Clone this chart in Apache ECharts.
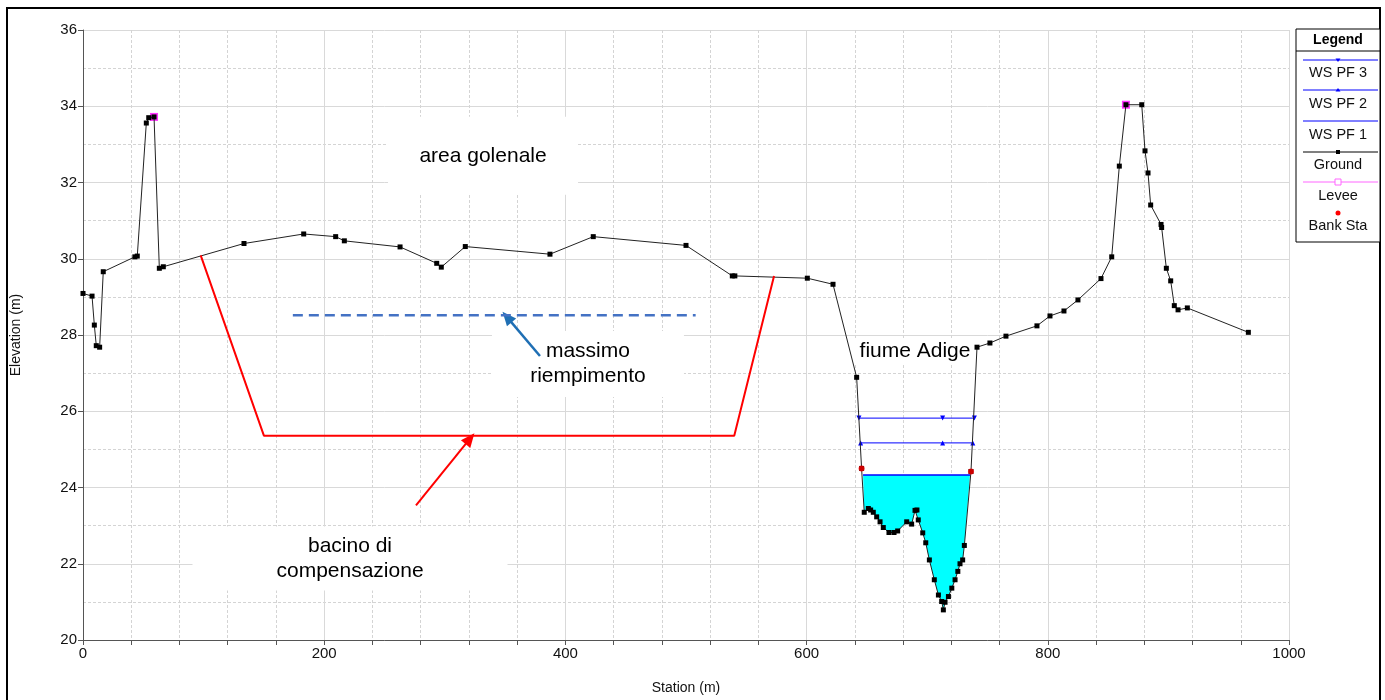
<!DOCTYPE html>
<html>
<head>
<meta charset="utf-8">
<script src="https://cdn.jsdelivr.net/npm/echarts@6/dist/echarts.min.js"></script>
<style>
  html, body { margin: 0; padding: 0; background: #fff; }
  #main { width: 1385px; height: 700px; }
</style>
</head>
<body>
<div id="main"></div>
<script>
// Cross section: station (m) vs elevation (m)
const ground = [
  [0, 29.09], [7.5, 29.02], [9.4, 28.26], [11, 27.72], [13.8, 27.68], [16.8, 29.66],
  [43, 30.05], [45, 30.07], [52.5, 33.56], [54.5, 33.70], [58.9, 33.72], [63.3, 29.75],
  [66.6, 29.79], [133.5, 30.40], [183, 30.65], [209.5, 30.58], [216.7, 30.47],
  [262.9, 30.31], [293.3, 29.88], [297.1, 29.78], [317, 30.32], [387.2, 30.12],
  [423.1, 30.58], [500, 30.35], [538.4, 29.55], [540.5, 29.55], [600.6, 29.49],
  [621.9, 29.33], [641.5, 26.89], [645.6, 24.50], [647.8, 23.35], [651.2, 23.45],
  [653.1, 23.41], [655.3, 23.35], [658.1, 23.23], [660.9, 23.10], [663.6, 22.95],
  [668.3, 22.82], [672.5, 22.82], [675.5, 22.86], [683, 23.10], [687.1, 23.04],
  [689.9, 23.40], [691.5, 23.41], [692.6, 23.15], [696.3, 22.81], [698.8, 22.55],
  [701.8, 22.10], [705.9, 21.58], [709.3, 21.18], [712, 21.01], [713.4, 20.79],
  [714.8, 20.99], [717.6, 21.14], [720.4, 21.36], [723.1, 21.58], [725.4, 21.80],
  [727.2, 22.00], [729.4, 22.10], [730.8, 22.48], [736.3, 24.42], [741.3, 27.68],
  [752, 27.79], [765.3, 27.97], [791, 28.24], [801.8, 28.50], [813.4, 28.63],
  [825, 28.92], [844.1, 29.48], [853, 30.05], [859.3, 32.43], [864.8, 34.04],
  [877.9, 34.04], [880.6, 32.83], [883.1, 32.25], [885.3, 31.41], [893.9, 30.90],
  [894.4, 30.82], [898.3, 29.75], [901.9, 29.42], [904.9, 28.77], [908, 28.66],
  [915.7, 28.71], [966.3, 28.07]
];

// Channel bed below the PF 1 water surface
const wetBed = [
  [646.8, 24.33], [647.8, 23.35], [651.2, 23.45], [653.1, 23.41], [655.3, 23.35],
  [658.1, 23.23], [660.9, 23.10], [663.6, 22.95], [668.3, 22.82], [672.5, 22.82],
  [675.5, 22.86], [683, 23.10], [687.1, 23.04], [689.9, 23.40], [691.5, 23.41],
  [692.6, 23.15], [696.3, 22.81], [698.8, 22.55], [701.8, 22.10], [705.9, 21.58],
  [709.3, 21.18], [712, 21.01], [713.4, 20.79], [714.8, 20.99], [717.6, 21.14],
  [720.4, 21.36], [723.1, 21.58], [725.4, 21.80], [727.2, 22.00], [729.4, 22.10],
  [730.8, 22.48], [735.5, 24.33]
];

const wsPF1 = [[646.8, 24.33], [735.5, 24.33]];
const wsPF2 = [[644.8, 25.17], [712.8, 25.17], [737.8, 25.17]];
const wsPF3 = [[643.4, 25.82], [712.8, 25.82], [739.1, 25.82]];
const levee = [[58.9, 33.72], [864.8, 34.04]];
const bankSta = [[645.6, 24.50], [736.3, 24.42]];

// Compensation basin outline and maximum fill level
const basin = [[97.6, 30.09], [150, 25.36], [540, 25.36], [573, 29.55]];
const maxFill = [[174, 28.52], [508, 28.52]];
const fillArrow = [[378.9, 27.45], [351.6, 28.47]];
const basinArrow = [[276.1, 23.53], [320.9, 25.28]];

const xTicks = [0, 200, 400, 600, 800, 1000];
const yTicks = [20, 22, 24, 26, 28, 30, 32, 34, 36];

const FONT = '"Liberation Sans", Arial, sans-serif';
const chart = echarts.init(document.getElementById('main'));

const option = {
  animation: false,
  backgroundColor: '#fff',
  grid: { left: 83, right: 96, top: 30, bottom: 58, containLabel: false },
  xAxis: {
    type: 'value', min: xTicks[0], max: xTicks[xTicks.length - 1], interval: 200,
    name: 'Station (m)', nameLocation: 'middle', nameGap: 41,
    nameTextStyle: { fontFamily: FONT, fontSize: 14, color: '#111' },
    axisLine: { show: true, lineStyle: { color: '#555', width: 1 } },
    axisTick: { show: true, length: 5, lineStyle: { color: '#555' } },
    minorTick: { show: true, splitNumber: 5, length: 5, lineStyle: { color: '#555' } },
    axisLabel: { fontFamily: FONT, fontSize: 15, color: '#111', margin: 6,
      formatter: v => String(v) },
    splitLine: { show: true, lineStyle: { color: '#d9d9d9', width: 1 } },
    minorSplitLine: { show: true, lineStyle: { color: '#d4d4d4', type: [3, 2], width: 1 } }
  },
  yAxis: {
    type: 'value', min: yTicks[0], max: yTicks[yTicks.length - 1], interval: 2,
    name: 'Elevation (m)', nameLocation: 'middle', nameGap: 60, nameRotate: 90,
    nameTextStyle: { fontFamily: FONT, fontSize: 14, color: '#111' },
    axisLine: { show: true, lineStyle: { color: '#555', width: 1 } },
    axisTick: { show: true, length: 5, lineStyle: { color: '#555' } },
    minorTick: { show: false, splitNumber: 2 },
    axisLabel: { fontFamily: FONT, fontSize: 15, color: '#111', margin: 6 },
    splitLine: { show: true, lineStyle: { color: '#d9d9d9', width: 1 } },
    minorSplitLine: { show: true, lineStyle: { color: '#d4d4d4', type: [3, 2], width: 1 } }
  },
  series: [
    {
      name: 'water', type: 'line', data: wetBed, symbol: 'none', silent: true,
      lineStyle: { width: 0 },
      areaStyle: { color: '#00FFFF', opacity: 1, origin: 24.33 }, z: 2
    },
    {
      name: 'WS PF 3', type: 'line', data: wsPF3, symbol: 'triangle', symbolRotate: 180,
      symbolSize: 5, color: '#0000FF', lineStyle: { color: '#0000FF', width: 1 }, z: 3
    },
    {
      name: 'WS PF 2', type: 'line', data: wsPF2, symbol: 'triangle',
      symbolSize: 5, color: '#0000FF', lineStyle: { color: '#0000FF', width: 1 }, z: 3
    },
    {
      name: 'WS PF 1', type: 'line', data: wsPF1, symbol: 'none',
      color: '#0000FF', lineStyle: { color: '#0000FF', width: 1.5 }, z: 3
    },
    {
      name: 'Levee', type: 'scatter', data: levee, symbol: 'rect', symbolSize: 8,
      itemStyle: { color: '#FF00FF' }, z: 4
    },
    {
      name: 'Ground', type: 'line', data: ground, symbol: 'rect', symbolSize: 5,
      showAllSymbol: true, color: '#000',
      itemStyle: { color: '#000' }, lineStyle: { color: '#222', width: 1 }, z: 5
    },
    {
      name: 'Bank Sta', type: 'scatter', data: bankSta, symbol: 'circle', symbolSize: 6,
      itemStyle: { color: '#FF0000' }, z: 6
    },
    {
      name: 'bacino', type: 'line', data: basin, symbol: 'none', silent: true,
      lineStyle: { color: '#FF0000', width: 2 }, z: 7
    },
    {
      name: 'riempimento', type: 'line', data: maxFill, symbol: 'none', silent: true,
      lineStyle: { color: '#4472C4', width: 2.5, type: [10, 6] }, z: 7
    },
    {
      name: 'arrows', type: 'line', data: [], silent: true, z: 8,
      markLine: {
        silent: true, symbol: ['none', 'triangle'], symbolSize: [12, 14],
        label: { show: false },
        data: [
          [{ coord: fillArrow[0], lineStyle: { color: '#1F6FB4', width: 2.5, type: 'solid' } },
           { coord: fillArrow[1] }],
          [{ coord: basinArrow[0], lineStyle: { color: '#FF0000', width: 2, type: 'solid' } },
           { coord: basinArrow[1] }]
        ]
      }
    }
  ]
};
chart.setOption(option);

// Annotations and legend, anchored to the plot
const px = (x, y) => chart.convertToPixel({ gridIndex: 0 }, [x, y]);
const graphics = [];

function note(text, x, y, boxW, boxH) {
  const c = px(x, y);
  graphics.push({
    type: 'rect', z: 1, silent: true,
    shape: { x: c[0] - boxW / 2, y: c[1] - boxH / 2, width: boxW, height: boxH },
    style: { fill: '#fff' }
  });
  graphics.push({
    type: 'text', z: 20, silent: true, x: c[0], y: c[1],
    style: { text: text, fontFamily: FONT, fontSize: 21, fill: '#000',
      align: 'center', verticalAlign: 'middle', lineHeight: 25 }
  });
}
note('area golenale', 331.7, 32.70, 190, 78);
note('massimo\nriempimento', 418.7, 27.24, 192, 66);
note('bacino di\ncompensazione', 221.4, 22.14, 315, 64);
note('fiume Adige', 689.9, 27.58, 120, 24);

// Outer frame
graphics.push({
  type: 'rect', z: 30, silent: true,
  shape: { x: 7, y: 8, width: 1373, height: 720 },
  style: { fill: null, stroke: '#000', lineWidth: 2 }
});

// Legend panel
const LX = 1296, LY = 29, LW = 84, LH = 213;
graphics.push({
  type: 'rect', z: 30, silent: true,
  shape: { x: LX, y: LY, width: LW, height: LH },
  style: { fill: '#fff', stroke: '#000', lineWidth: 1 }
});
graphics.push({
  type: 'line', z: 31, silent: true,
  shape: { x1: LX, y1: 51, x2: LX + LW, y2: 51 }, style: { stroke: '#000', lineWidth: 1 }
});
graphics.push({
  type: 'text', z: 31, silent: true, x: LX + LW / 2, y: 40,
  style: { text: 'Legend', fontFamily: FONT, fontSize: 14, fontWeight: 'bold', fill: '#000',
    align: 'center', verticalAlign: 'middle' }
});
const legendItems = [
  { name: 'WS PF 3', color: '#0000FF', mark: 'tri-down', ly: 60, ty: 73 },
  { name: 'WS PF 2', color: '#0000FF', mark: 'tri-up', ly: 90, ty: 104 },
  { name: 'WS PF 1', color: '#0000FF', mark: null, ly: 121, ty: 135 },
  { name: 'Ground', color: '#000', mark: 'square', ly: 152, ty: 165 },
  { name: 'Levee', color: '#FF66FF', mark: 'hollow', ly: 182, ty: 196 },
  { name: 'Bank Sta', color: '#FF0000', mark: 'dot', ly: 213, ty: 226 }
];
const mx = LX + LW / 2;
legendItems.forEach(it => {
  if (it.mark !== 'dot') {
    graphics.push({
      type: 'line', z: 31, silent: true,
      shape: { x1: 1303, y1: it.ly, x2: 1378, y2: it.ly }, style: { stroke: it.color, lineWidth: 1 }
    });
  }
  if (it.mark === 'tri-down') {
    graphics.push({ type: 'polygon', z: 32, silent: true,
      shape: { points: [[mx - 2.5, it.ly - 1.5], [mx + 2.5, it.ly - 1.5], [mx, it.ly + 2]] },
      style: { fill: it.color } });
  } else if (it.mark === 'tri-up') {
    graphics.push({ type: 'polygon', z: 32, silent: true,
      shape: { points: [[mx - 2.5, it.ly + 1.5], [mx + 2.5, it.ly + 1.5], [mx, it.ly - 2]] },
      style: { fill: it.color } });
  } else if (it.mark === 'square') {
    graphics.push({ type: 'rect', z: 32, silent: true,
      shape: { x: mx - 2, y: it.ly - 2, width: 4, height: 4 }, style: { fill: '#000' } });
  } else if (it.mark === 'hollow') {
    graphics.push({ type: 'rect', z: 32, silent: true,
      shape: { x: mx - 3, y: it.ly - 3, width: 6, height: 6 },
      style: { fill: '#fff', stroke: it.color, lineWidth: 1 } });
  } else if (it.mark === 'dot') {
    graphics.push({ type: 'circle', z: 32, silent: true,
      shape: { cx: mx, cy: it.ly, r: 2.5 }, style: { fill: it.color } });
  }
  graphics.push({
    type: 'text', z: 31, silent: true, x: mx, y: it.ty,
    style: { text: it.name, fontFamily: FONT, fontSize: 14.5, fill: '#111',
      align: 'center', verticalAlign: 'middle' }
  });
});

chart.setOption({ graphic: graphics });
</script>
</body>
</html>
